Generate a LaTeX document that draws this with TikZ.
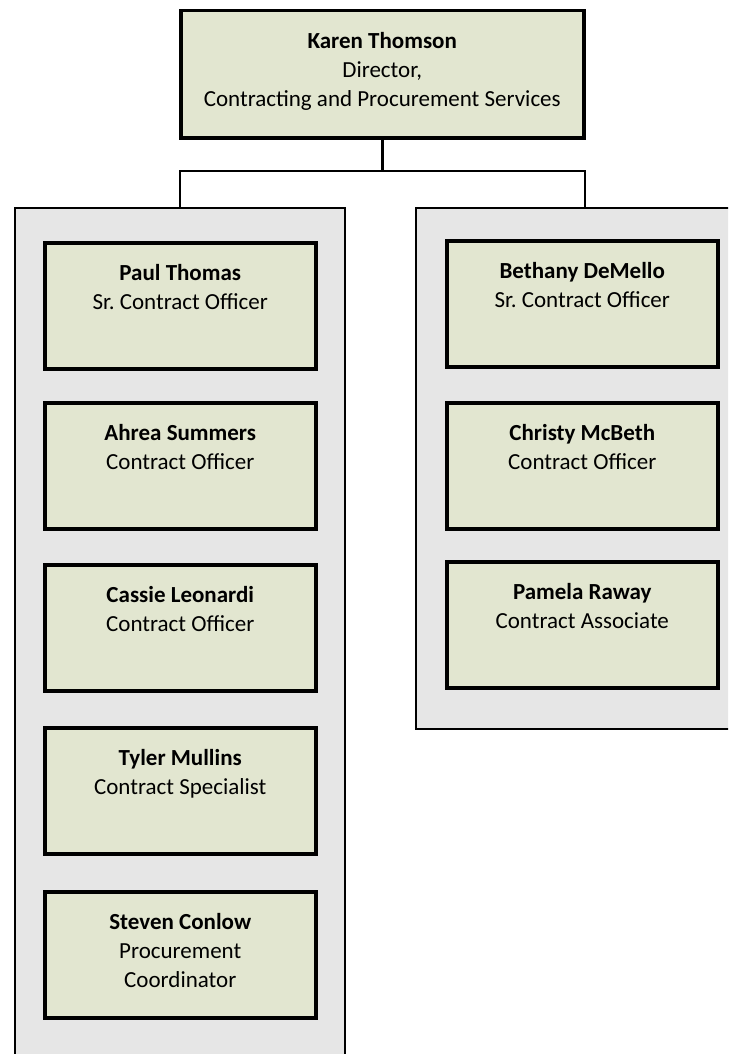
\documentclass[tikz,border=0pt]{standalone}
\usepackage{fontspec}
\setmainfont{Carlito}
\frenchspacing
\definecolor{boxfill}{RGB}{226,230,208}
\definecolor{panelfill}{RGB}{230,230,230}
\begin{document}
\begin{tikzpicture}[x=1pt,y=-1pt,
  person/.style={draw=black,line width=3.5pt,fill=boxfill,inner sep=0pt,
    minimum width=271pt,minimum height=126pt,anchor=north west},
  panel/.style={draw=black,line width=2pt,fill=panelfill,inner sep=0pt,anchor=north west},
  txt/.style={anchor=north,inner sep=0pt,align=center,
    font=\fontsize{23}{29}\selectfont},
  conn/.style={draw=black,line width=2pt}]
\clip (0,0) rectangle (728,1054);
\fill[white] (0,0) rectangle (728,1054);
% panels
\node[panel,minimum width=330pt,minimum height=870pt] (lp) at (14,207) {};
\node[panel,minimum width=330pt,minimum height=521pt] (rp) at (415,207) {};
% top box
\node[person,minimum width=403pt,minimum height=127pt] (top) at (179,9) {};
\node[txt] (toptxt) at ([yshift=-22pt]top.north) {\rule{0pt}{17pt}\textbf{Karen Thomson}\\Director,\\Contracting and Procurement Services};
% connectors
\coordinate (hy) at (0,171);
\coordinate (j) at (top.south |- hy);
\coordinate (jl) at (lp.north -| top.north west);
\coordinate (jr) at (rp.north -| top.north east);
\draw[black,line width=3pt] (top.south) -- (j);
\draw[conn] ([xshift=1pt]jl) |- (j) -| ([xshift=-1pt]jr);
% left column
\node[person] (p1) at (43,241) {};
\node[person] (p2) at (43,401) {};
\node[person] (p3) at (43,563) {};
\node[person] (p4) at (43,726) {};
\node[person] (p5) at (43,890) {};
\node[txt] (t1) at ([yshift=-22pt]p1.north) {\rule{0pt}{17pt}\textbf{Paul Thomas}\\Sr. Contract Officer};
\node[txt] (t2) at ([yshift=-22pt]p2.north) {\rule{0pt}{17pt}\textbf{Ahrea Summers}\\Contract Officer};
\node[txt] (t3) at ([yshift=-22pt]p3.north) {\rule{0pt}{17pt}\textbf{Cassie Leonardi}\\Contract Officer};
\node[txt] (t4) at ([yshift=-22pt]p4.north) {\rule{0pt}{17pt}\textbf{Tyler Mullins}\\Contract Specialist};
\node[txt] (t5) at ([yshift=-22pt]p5.north) {\rule{0pt}{17pt}\textbf{Steven Conlow}\\Procurement\\Coordinator};
% right column
\node[person] (q1) at (445,239) {};
\node[person] (q2) at (445,401) {};
\node[person] (q3) at (445,560) {};
\node[txt] (u1) at ([yshift=-22pt]q1.north) {\rule{0pt}{17pt}\textbf{Bethany DeMello}\\Sr. Contract Officer};
\node[txt] (u2) at ([yshift=-22pt]q2.north) {\rule{0pt}{17pt}\textbf{Christy McBeth}\\Contract Officer};
\node[txt] (u3) at ([yshift=-22pt]q3.north) {\rule{0pt}{17pt}\textbf{Pamela Raway}\\Contract Associate};
\end{tikzpicture}
\end{document}
